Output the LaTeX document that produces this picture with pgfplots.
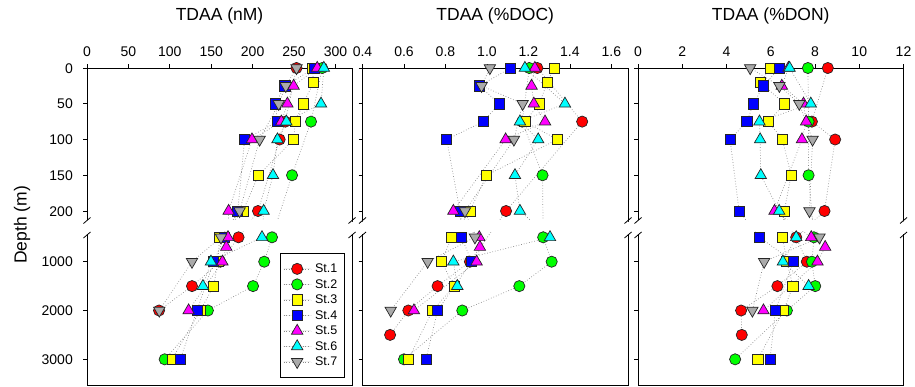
\documentclass[border=0pt]{standalone}
\usepackage{pgfplots}
\pgfplotsset{compat=1.18}
\usepackage{pgfplotstable}
\usepackage{fontspec}
\setmainfont{Liberation Sans}

\definecolor{cRed}{RGB}{255,0,0}
\definecolor{cGreen}{RGB}{0,255,0}
\definecolor{cYellow}{RGB}{255,255,0}
\definecolor{cBlue}{RGB}{0,0,255}
\definecolor{cMag}{RGB}{255,0,255}
\definecolor{cCyan}{RGB}{0,255,255}
\definecolor{cGray}{RGB}{170,170,170}
\definecolor{cLine}{RGB}{140,140,140}

% depth (m) and TDAA (nM) for stations 1-7
\pgfplotstableread{
d    s1    s2    s3    s4    s5    s6    s7
0    253   284   272   275   278   286   253
20   nan   nan   273.7 nan   nan   nan   nan
25   nan   nan   nan   239   249.5 nan   240
50   nan   nan   261   227.4 242   282.6 231.5
75   239.5 270.5 251.6 230   234.7 240.7 nan
100  232.6 nan   249.5 190.4 199.2 230   208.5
150  nan   247.6 207   nan   nan   224.6 nan
200  206.5 nan   188.4 182   171   213.3 184.3
500  183   223.4 160   165.8 170.3 211.3 161.8
700  nan   nan   nan   nan   168.2 nan   nan
1000 161   214   158   153   163.5 149.7 126.8
1500 126.8 200.5 153   nan   nan   140   nan
2000 87    146   136.8 132.8 122.7 nan   87.3
3000 nan   93.8  102.6 112.7 nan   nan   nan
}\tNM

% TDAA (%DOC)
\pgfplotstableread{
d    s1    s2    s3    s4    s5    s6    s7
0    1.243 1.204 1.323 1.114 1.231 1.183 1.014
20   nan   nan   1.291 nan   nan   nan   nan
25   nan   nan   nan   0.963 1.215 nan   0.974
50   nan   nan   1.252 1.059 1.226 1.376 1.172
75   1.459 1.17  1.183 0.982 1.28  1.159 nan
100  nan   nan   1.339 0.806 1.09  1.247 1.13
150  nan   1.268 0.998 nan   nan   1.135 nan
200  1.092 nan   0.918 0.870 0.838 1.159 0.894
500  nan   1.271 0.830 0.878 0.963 1.304 0.942
700  nan   nan   nan   nan   0.966 nan   nan
1000 0.918 1.312 0.781 0.926 0.950 0.838 0.714
1500 0.762 1.156 0.841 nan   nan   0.857 nan
2000 0.621 0.881 0.738 0.762 0.648 nan   0.536
2500 0.533 nan   nan   nan   nan   nan   nan
3000 nan   0.600 0.621 0.706 nan   nan   nan
}\tDOC

% TDAA (%DON)
\pgfplotstableread{
d    s1    s2    s3    s4    s5    s6    s7
0    8.58  7.68  6.00  6.38  6.80  6.85  5.07
20   nan   nan   5.52  nan   nan   nan   nan
25   nan   nan   nan   5.67  6.50  nan   6.39
50   nan   nan   6.62  5.22  7.48  7.81  7.29
75   7.86  7.71  5.90  4.92  7.60  5.49  nan
100  8.91  nan   6.53  4.16  7.41  5.52  7.89
150  nan   7.71  6.92  nan   nan   5.55  nan
200  8.43  nan   6.61  4.57  6.17  6.38  7.75
500  7.15  7.95  6.53  5.49  7.83  7.15  8.20
700  nan   nan   nan   nan   8.46  nan   nan
1000 7.63  7.86  6.73  7.03  8.11  6.55  5.70
1500 6.30  8.01  7.00  nan   nan   7.71  nan
2000 4.66  6.73  6.58  6.20  5.67  nan   5.17
2500 4.69  nan   nan   nan   nan   nan   nan
3000 nan   4.39  5.42  5.97  nan   nan   nan
}\tDON

% broken depth axis: 0-200 m on top, 500-3500 m below
\newcommand{\DY}{(\thisrow{d}<300)*0.715*\thisrow{d}+(\thisrow{d}>=300)*(193.7+0.0488*(\thisrow{d}-1000))}

\pgfplotsset{
  panel/.style={
    scale only axis, height=317pt, anchor=north west,
    y dir=reverse, ymin=0, ymax=317,
    ytick={0,35.75,71.5,107.25,143,193.7,242.5,291.3},
    yticklabels={},
    xtick pos=right, xticklabel pos=right, ytick pos=left,
    tick align=outside, major tick length=4pt,
    axis line style={line width=0.8pt},
    every tick/.style={black, line width=0.8pt},
    tick label style={font=\fontsize{14}{14}\selectfont},
    xticklabel style={anchor=south, inner sep=0pt, text height=10pt, text depth=0pt},
    xticklabel shift=7pt,
    yticklabel style={anchor=east, inner sep=0pt, text height=10pt, text depth=0pt},
    yticklabel shift=10pt,
    title style={font=\fontsize{17.5}{17.5}\selectfont, at={(0.5,1)}, anchor=base, yshift=41.5pt},
    clip=true,
  },
  ln/.style={no marks, cLine, dotted, line width=0.7pt, forget plot},
  mk/.style={only marks, draw=black!85, line width=0.7pt,
    legend image code/.code={
      \draw[cLine, dotted, line width=0.7pt] (0pt,0pt) -- (27pt,0pt);
      \draw[##1] plot coordinates {(13.5pt,0pt)};}},
  st1/.style={mk, mark=*, fill=cRed, mark size=5.6pt},
  st2/.style={mk, mark=*, fill=cGreen, mark size=5.6pt},
  st3/.style={mk, mark=square*, fill=cYellow, mark size=5.1pt},
  st4/.style={mk, mark=square*, fill=cBlue, mark size=5.1pt},
  st5/.style={mk, mark=triangle*, fill=cMag, mark size=6.6pt},
  st6/.style={mk, mark=triangle*, fill=cCyan, mark size=6.6pt},
  st7/.style={mk, mark=triangle*, fill=cGray, mark size=6.6pt, mark options={rotate=180}},
}

% plotting macro: #1 table, #2 band xmin, #3 band xmax
\newcommand{\stations}[3]{%
  \foreach \s in {s1,s2,s3,s4,s5,s6,s7}{%
    \addplot[ln] table[x=\s, y expr=\DY] {#1};
  }
  \fill[white] (axis cs:#2,152) rectangle (axis cs:#3,163);
  \addplot[st1] table[x=s1, y expr=\DY] {#1};
  \addplot[st2] table[x=s2, y expr=\DY] {#1};
  \addplot[st3] table[x=s3, y expr=\DY] {#1};
  \addplot[st4] table[x=s4, y expr=\DY] {#1};
  \addplot[st5] table[x=s5, y expr=\DY] {#1};
  \addplot[st6] table[x=s6, y expr=\DY] {#1};
  \addplot[st7] table[x=s7, y expr=\DY] {#1};
}

\begin{document}
\begin{tikzpicture}[x=1pt,y=1pt]
\useasboundingbox (0,0) rectangle (915,-386);

\begin{axis}[panel, at={(87pt,-68pt)}, width=265pt,
  xmin=0, xmax=320, xtick={0,50,100,150,200,250,300},
  xticklabels={0,50,100,150,200,250,300},
  yticklabels={0,50,100,150,200,1000,2000,3000},
  title={TDAA (nM)},
  ylabel={Depth (m)},
  ylabel style={font=\fontsize{17.5}{17.5}\selectfont, at={(axis description cs:-0.245,0.505)}, anchor=center},
  legend style={at={(axis description cs:0.728,0.022)}, anchor=south west,
    draw=black, line width=0.8pt, font=\fontsize{12.5}{12.5}\selectfont,
    inner xsep=3pt, inner ysep=8pt, row sep=0pt,
    nodes={inner xsep=4pt, inner ysep=1.5pt, text height=10pt, text depth=2.5pt}},
  legend cell align=left,
]
\stations{\tNM}{-50}{400}
\legend{St.1,St.2,St.3,St.4,St.5,St.6,St.7}
\end{axis}

\begin{axis}[panel, at={(362.5pt,-68pt)}, width=265.5pt,
  xmin=0.4, xmax=1.68, xtick={0.4,0.6,0.8,1.0,1.2,1.4,1.6},
  xticklabels={0.4,0.6,0.8,1.0,1.2,1.4,1.6},
  title={TDAA (\%DOC)},
]
\stations{\tDOC}{0}{2}
\end{axis}

\begin{axis}[panel, at={(638pt,-68pt)}, width=265.5pt,
  xmin=0, xmax=12, xtick={0,2,4,6,8,10,12},
  xticklabels={0,2,4,6,8,10,12},
  title={TDAA (\%DON)},
]
\stations{\tDON}{-1}{13}
\end{axis}

% axis breaks
\foreach \xx in {87,352,362.5,628,638,903.5}{
  \fill[white] (\xx-3,-221.5) rectangle (\xx+3,-233.5);
  \draw[line width=0.8pt] (\xx-3.5,-223.5) -- (\xx+3.5,-217.5);
  \draw[line width=0.8pt] (\xx-3.5,-238) -- (\xx+3.5,-232);
}
\end{tikzpicture}
\end{document}
